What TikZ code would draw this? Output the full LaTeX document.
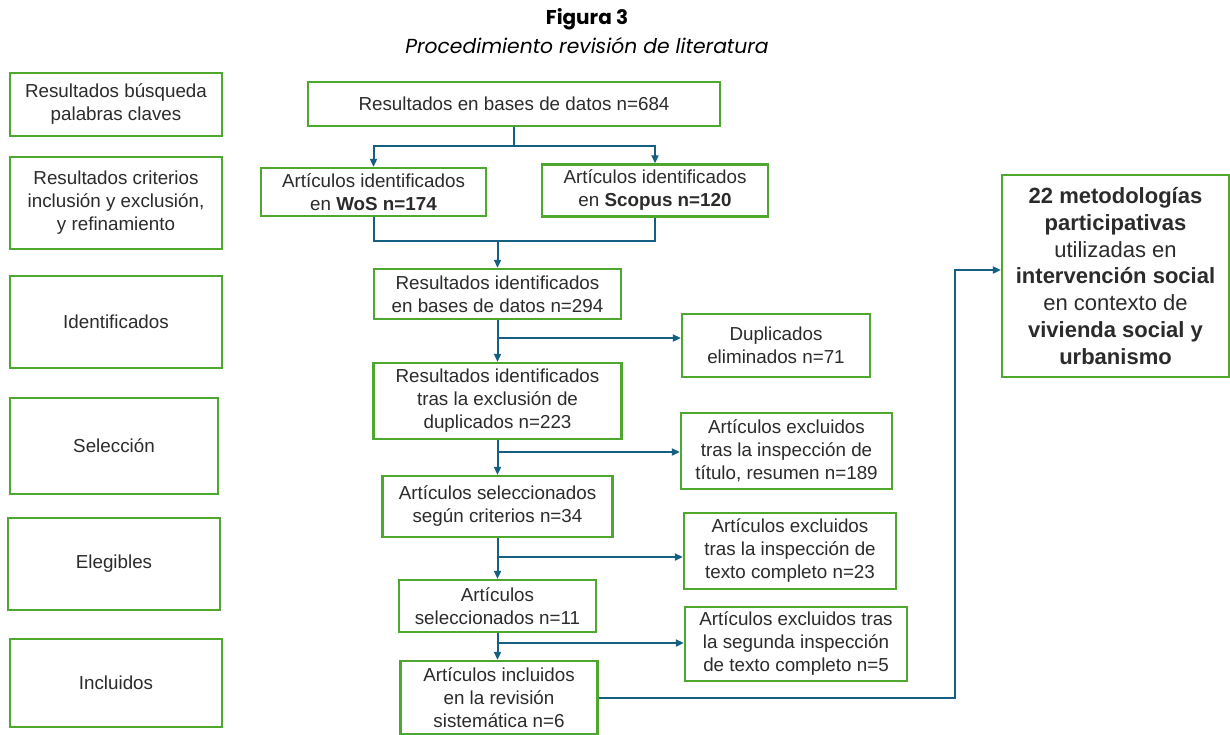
\documentclass[tikz,border=0pt]{standalone}
\usepackage{fontspec}
\setmainfont{Liberation Sans}
\newfontfamily\titlefont{Poppins}
\usetikzlibrary{arrows.meta}

\definecolor{boxgreen}{HTML}{4EA72E}
\definecolor{linkblue}{HTML}{156082}
\definecolor{txtgray}{HTML}{2B2B2B}

\tikzset{
	box/.style={draw=boxgreen, line width=2.4pt, fill=white, align=center, text=txtgray, inner sep=0pt,
		font=\fontsize{18.8}{23}\selectfont},
	bigbox/.style={box, font=\fontsize{22}{26.8}\selectfont},
	link/.style={draw=linkblue, line width=2pt},
	arrow/.style={link, -{Triangle[length=8pt,width=7pt]}}
}

\begin{document}
\begin{tikzpicture}[x=1pt,y=-1pt]
	
	\useasboundingbox[fill=white] (0,0) rectangle (1230,734);
	
	% title
	\node (fig) at (587,19) {\titlefont\fontsize{20}{22}\selectfont\bfseries Figura 3};
	\node (caption) at (587,46) {\titlefont\fontsize{20.3}{22}\selectfont\itshape Procedimiento revisión de literatura};
	
	% left column
	\node[box, minimum width=212pt, minimum height=63pt] (lbus) at (116,104.5) {Resultados búsqueda\\palabras claves};
	\node[box, minimum width=212pt, minimum height=92pt] (lcrit) at (116,203) {Resultados criterios\\inclusión y exclusión,\\y refinamiento};
	\node[box, minimum width=212pt, minimum height=92pt] (lident) at (116,322) {Identificados};
	\node[box, minimum width=208pt, minimum height=96pt] (lsel) at (114,446) {Selección};
	\node[box, minimum width=212pt, minimum height=92pt] (leleg) at (114,564) {Elegibles};
	\node[box, minimum width=212pt, minimum height=88pt] (linc) at (116,683) {Incluidos};
	
	% flow
	\node[box, minimum width=412pt, minimum height=44pt] (bases) at (514,104) {Resultados en bases de datos n=684};
	\node[box, minimum width=225pt, minimum height=48pt] (wos) at (373.5,192) {Artículos identificados\\en \textbf{WoS n=174}};
	\node[box, minimum width=226pt, minimum height=52pt] (scopus) at (655,190.5) {Artículos identificados\\en \textbf{Scopus n=120}};
	\node[box, minimum width=247pt, minimum height=50pt] (n294) at (497.5,294) {Resultados identificados\\en bases de datos n=294};
	\node[box, minimum width=248pt, minimum height=76pt] (n223) at (497.5,401) {Resultados identificados\\tras la exclusión de\\duplicados n=223};
	\node[box, minimum width=230pt, minimum height=61pt] (n34) at (497.5,506.5) {Artículos seleccionados\\según criterios n=34};
	\node[box, minimum width=197pt, minimum height=52pt] (n11) at (497.5,606) {Artículos\\seleccionados n=11};
	\node[box, minimum width=197pt, minimum height=73pt] (n6) at (499,697.5) {Artículos incluidos\\en la revisión\\sistemática n=6};
	
	% excluded
	\node[box, minimum width=188pt, minimum height=63pt] (dup) at (776,345.5) {Duplicados\\eliminados n=71};
	\node[box, minimum width=211pt, minimum height=76pt] (ex189) at (786.5,451) {Artículos excluidos\\tras la inspección de\\título, resumen n=189};
	\node[box, minimum width=212pt, minimum height=76pt] (ex23) at (790,551) {Artículos excluidos\\tras la inspección de\\texto completo n=23};
	\node[box, minimum width=222pt, minimum height=74pt] (ex5) at (796,644) {Artículos excluidos tras\\la segunda inspección\\de texto completo n=5};
	
	% result
	\node[bigbox, minimum width=227pt, minimum height=202pt] (result) at (1115.5,276) {\textbf{22 metodologías}\\\textbf{participativas}\\utilizadas en\\\textbf{intervención social}\\en contexto de\\\textbf{vivienda social y}\\\textbf{urbanismo}};
	
	% split and join
	\draw[arrow] (bases.south) -- ++(0,19) -| (wos.north);
	\draw[arrow] (bases.south) -- ++(0,19) -| (scopus.north);
	\coordinate (join) at (497.5,241);
	\draw[link] (wos.south) |- (join) -| (scopus.south);
	\draw[arrow] (join) -- (n294.north);
	
	% main line
	\draw[arrow] (n294.south) -- (n223.north);
	\draw[arrow] (n223.south) -- (n34.north);
	\draw[arrow] (n34.south) -- (n11.north);
	\draw[arrow] (n11.south) -- (n11.south |- n6.north);
	
	% branches
	\coordinate (b1) at (497.5,338);
	\coordinate (b2) at (497.5,452);
	\coordinate (b3) at (497.5,557);
	\coordinate (b4) at (497.5,643);
	\draw[arrow] (b1) -- (b1 -| dup.west);
	\draw[arrow] (b2) -- (b2 -| ex189.west);
	\draw[arrow] (b3) -- (b3 -| ex23.west);
	\draw[arrow] (b4) -- (b4 -| ex5.west);
	
	% to result
	\coordinate (turn) at (955,270);
	\draw[arrow] (n6.east) -| (turn) -- (turn -| result.west);
	
\end{tikzpicture}
\end{document}
